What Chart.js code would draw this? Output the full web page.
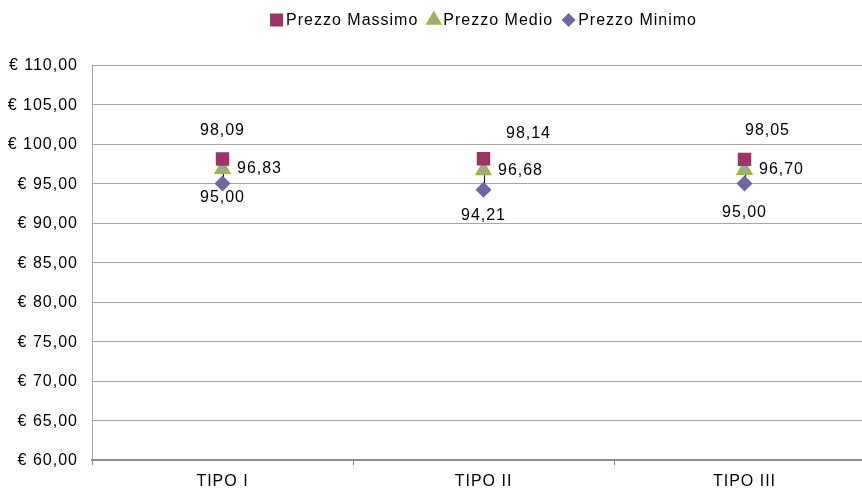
<!DOCTYPE html>
<html>
<head>
<meta charset="utf-8">
<script src="https://cdn.jsdelivr.net/npm/chart.js@4/dist/chart.umd.min.js"></script>
<style>
  html, body { margin: 0; padding: 0; background: #fff; overflow: hidden; width: 862px; height: 489px; }
  #wrap { width: 885px; height: 489px; }
  canvas { display: block; }
</style>
</head>
<body>
<div id="wrap"><canvas id="c" width="885" height="489"></canvas></div>
<script>
// Categories and prices (€)
const categories = ['TIPO I', 'TIPO II', 'TIPO III'];
const prezzoMassimo = [98.09, 98.14, 98.05];
const prezzoMedio = [96.83, 96.68, 96.70];
const prezzoMinimo = [95.00, 94.21, 95.00];
const yMin = 60, yMax = 110, yStep = 5;

const FONT = '"Liberation Sans", Arial, sans-serif';
const fmt = v => v.toFixed(2).replace('.', ',');

// Label placement relative to each point (pixels)
const labelOffsets = [
  [[0, -28], [45, -25], [23, -29]],
  [[37, 0], [37, 0], [37, 0]],
  [[0, 14], [0, 26], [0, 29]]
];

// Slightly tracked lettering for every text drawn on the canvas
const trackingPlugin = {
  id: 'tracking',
  beforeInit(chart) { chart.ctx.letterSpacing = '1px'; },
  beforeUpdate(chart) { chart.ctx.letterSpacing = '1px'; },
  beforeDraw(chart) { chart.ctx.letterSpacing = '1px'; }
};

// Vertical high-low line joining min and max of each category
const highLowPlugin = {
  id: 'highLow',
  beforeDatasetsDraw(chart) {
    const ctx = chart.ctx;
    const x = chart.scales.x, y = chart.scales.y;
    ctx.save();
    ctx.strokeStyle = '#000';
    ctx.lineWidth = 1;
    categories.forEach((c, i) => {
      const px = Math.round(x.getPixelForValue(i)) + 0.5;
      ctx.beginPath();
      ctx.moveTo(px, y.getPixelForValue(prezzoMassimo[i]));
      ctx.lineTo(px, y.getPixelForValue(prezzoMinimo[i]));
      ctx.stroke();
    });
    ctx.restore();
  }
};

// Value labels next to points
const valueLabelPlugin = {
  id: 'valueLabels',
  afterDatasetsDraw(chart) {
    const ctx = chart.ctx;
    ctx.save();
    ctx.font = '16px ' + FONT;
    ctx.fillStyle = '#000';
    ctx.textAlign = 'center';
    ctx.textBaseline = 'middle';
    chart.data.datasets.forEach((ds, di) => {
      const meta = chart.getDatasetMeta(di);
      meta.data.forEach((pt, i) => {
        const off = labelOffsets[di][i];
        ctx.fillText(fmt(ds.data[i]), pt.x + off[0], pt.y + off[1]);
      });
    });
    ctx.restore();
  }
};

// Legend row centred over the plot area
const legendPlugin = {
  id: 'legendRow',
  afterDraw(chart) {
    const ctx = chart.ctx;
    const area = chart.chartArea;
    ctx.save();
    ctx.font = '16px ' + FONT;
    ctx.textBaseline = 'middle';
    ctx.textAlign = 'left';
    const markerW = 13, markerGap = 3, itemGap = 9;
    const items = chart.data.datasets.map(ds => ({
      ds, w: markerW + markerGap + ctx.measureText(ds.label).width
    }));
    const total = items.reduce((s, it) => s + it.w, 0) + itemGap * (items.length - 1);
    let x = (area.left + area.right) / 2 - total / 2;
    const y = 20;
    items.forEach(({ ds, w }) => {
      ctx.fillStyle = ds.pointBackgroundColor;
      ctx.strokeStyle = ds.pointBorderColor;
      ctx.lineWidth = ds.pointBorderWidth;
      Chart.helpers.drawPoint(ctx, {
        pointStyle: ds.pointStyle,
        radius: ds.legendRadius,
        borderWidth: ds.pointBorderWidth,
        rotation: 0
      }, x + markerW / 2, y);
      ctx.fillStyle = '#000';
      ctx.fillText(ds.label, x + markerW + markerGap, y + 1);
      x += w + itemGap;
    });
    ctx.restore();
  }
};

new Chart(document.getElementById('c'), {
  type: 'line',
  data: {
    labels: categories,
    datasets: [
      {
        label: 'Prezzo Massimo',
        data: prezzoMassimo,
        showLine: false,
        pointStyle: 'rect',
        pointRadius: 9.5,
        pointHoverRadius: 9.5,
        legendRadius: 9.2,
        pointBackgroundColor: '#9C3468',
        pointBorderColor: '#9C3468',
        backgroundColor: '#9C3468',
        borderColor: '#9C3468',
        pointBorderWidth: 0
      },
      {
        label: 'Prezzo Medio',
        data: prezzoMedio,
        showLine: false,
        pointStyle: 'triangle',
        pointRadius: 8,
        pointHoverRadius: 8,
        legendRadius: 7.5,
        pointBackgroundColor: '#A3A3A3',
        pointBorderColor: '#9BBB2F',
        backgroundColor: '#A3A3A3',
        borderColor: '#9BBB2F',
        pointBorderWidth: 2
      },
      {
        label: 'Prezzo Minimo',
        data: prezzoMinimo,
        showLine: false,
        pointStyle: 'rectRot',
        pointRadius: 8,
        pointHoverRadius: 8,
        legendRadius: 7,
        pointBackgroundColor: '#6B68A5',
        pointBorderColor: '#6B68A5',
        backgroundColor: '#6B68A5',
        borderColor: '#6B68A5',
        pointBorderWidth: 0
      }
    ]
  },
  options: {
    responsive: false,
    animation: false,
    events: [],
    layout: { padding: { left: 0, right: 2, top: 65, bottom: 0 } },
    plugins: {
      tooltip: { enabled: false },
      legend: { display: false }
    },
    scales: {
      x: {
        type: 'category',
        offset: true,
        afterFit(s) { s.height = 29; },
        grid: {
          offset: true,
          drawOnChartArea: false,
          drawTicks: true,
          tickLength: 5,
          color: '#8C8C8C'
        },
        border: { display: true, color: '#8C8C8C', width: 2 },
        ticks: {
          color: '#000',
          padding: 7,
          font: { family: FONT, size: 16 }
        }
      },
      y: {
        min: yMin,
        max: yMax,
        afterFit(s) { s.width = 92; },
        ticks: {
          stepSize: yStep,
          color: '#000',
          padding: 14,
          labelOffset: 1,
          font: { family: FONT, size: 16 },
          callback: v => '€ ' + fmt(v)
        },
        grid: {
          color: '#A6A6A6',
          lineWidth: 1,
          drawTicks: false
        },
        border: { display: true, color: '#A6A6A6', width: 1 }
      }
    }
  },
  plugins: [trackingPlugin, highLowPlugin, valueLabelPlugin, legendPlugin]
});
</script>
</body>
</html>
